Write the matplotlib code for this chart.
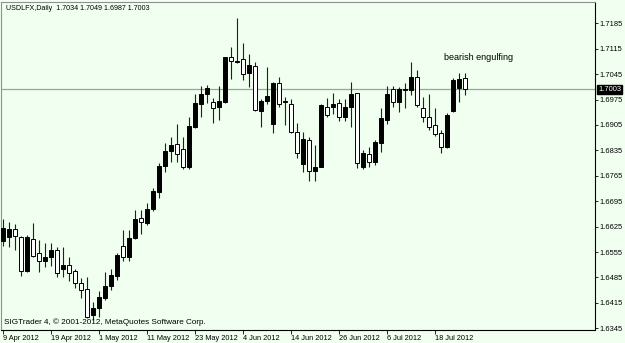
import matplotlib
matplotlib.use("Agg")
import matplotlib.pyplot as plt

# daily candles, 9 Apr 2012 .. 25 Jul 2012 (weekdays)
opens = [1.6585, 1.6597, 1.6619, 1.6596, 1.6504, 1.6590, 1.6553, 1.6530, 1.6542, 1.6560,
         1.6508, 1.6519, 1.6502, 1.6469, 1.6452, 1.6382, 1.6400, 1.6428, 1.6462, 1.6489,
         1.6572, 1.6542, 1.6595, 1.6649, 1.6636, 1.6674, 1.6720, 1.6793, 1.6834, 1.6853,
         1.6838, 1.6790, 1.6900, 1.6963, 1.6990, 1.6968, 1.6954, 1.6969, 1.7091, 1.7079,
         1.7086, 1.7049, 1.7068, 1.6943, 1.6971, 1.6908, 1.7021, 1.6970, 1.6963, 1.6885,
         1.6798, 1.6864, 1.6779, 1.6790, 1.6955, 1.6955, 1.6965, 1.6926, 1.6954, 1.6992,
         1.6790, 1.6824, 1.6804, 1.6854, 1.6919, 1.7003, 1.6969, 1.7002, 1.7001, 1.7036,
         1.6951, 1.6928, 1.6905, 1.6882, 1.6843, 1.6944, 1.7006, 1.7034]
highs = [1.6646, 1.6639, 1.6632, 1.6599, 1.6602, 1.6636, 1.6587, 1.6581, 1.6581, 1.6569,
         1.6570, 1.6540, 1.6508, 1.6484, 1.6486, 1.6418, 1.6449, 1.6500, 1.6508, 1.6552,
         1.6616, 1.6616, 1.6671, 1.6672, 1.6690, 1.6731, 1.6800, 1.6856, 1.6873, 1.6908,
         1.6871, 1.6928, 1.6990, 1.7012, 1.7014, 1.6978, 1.7012, 1.7093, 1.7119, 1.7199,
         1.7132, 1.7100, 1.7079, 1.6977, 1.7065, 1.7024, 1.7036, 1.6981, 1.6976, 1.6911,
         1.6887, 1.6873, 1.6850, 1.6963, 1.6978, 1.6994, 1.6976, 1.6976, 1.7024, 1.6994,
         1.6836, 1.6845, 1.6864, 1.6952, 1.7012, 1.7012, 1.7010, 1.7021, 1.7079, 1.7056,
         1.6983, 1.6990, 1.6951, 1.6891, 1.6939, 1.7033, 1.7047, 1.7049]
lows = [1.6572, 1.6570, 1.6561, 1.6488, 1.6500, 1.6540, 1.6501, 1.6515, 1.6517, 1.6486,
        1.6487, 1.6476, 1.6457, 1.6428, 1.6373, 1.6368, 1.6377, 1.6423, 1.6451, 1.6478,
        1.6530, 1.6530, 1.6592, 1.6605, 1.6630, 1.6668, 1.6703, 1.6776, 1.6802, 1.6802,
        1.6783, 1.6783, 1.6897, 1.6927, 1.6965, 1.6910, 1.6919, 1.6966, 1.7031, 1.7076,
        1.7029, 1.7009, 1.6943, 1.6899, 1.6963, 1.6882, 1.6955, 1.6905, 1.6883, 1.6813,
        1.6776, 1.6752, 1.6752, 1.6788, 1.6927, 1.6935, 1.6917, 1.6917, 1.6900, 1.6786,
        1.6783, 1.6790, 1.6795, 1.6831, 1.6908, 1.6955, 1.6942, 1.6952, 1.6988, 1.6955,
        1.6914, 1.6891, 1.6875, 1.6827, 1.6841, 1.6941, 1.6969, 1.6987]
closes = [1.6621, 1.6618, 1.6599, 1.6504, 1.6596, 1.6544, 1.6530, 1.6541, 1.6560, 1.6497,
          1.6519, 1.6497, 1.6470, 1.6451, 1.6375, 1.6400, 1.6430, 1.6462, 1.6492, 1.6547,
          1.6542, 1.6595, 1.6645, 1.6639, 1.6674, 1.6723, 1.6793, 1.6834, 1.6850, 1.6824,
          1.6788, 1.6903, 1.6966, 1.6990, 1.7006, 1.6951, 1.6972, 1.7091, 1.7081, 1.7082,
          1.7045, 1.7070, 1.6946, 1.6971, 1.6986, 1.7021, 1.6963, 1.6968, 1.6886, 1.6827,
          1.6866, 1.6778, 1.6790, 1.6960, 1.6932, 1.6963, 1.6926, 1.6954, 1.6990, 1.6801,
          1.6827, 1.6802, 1.6857, 1.6923, 1.6990, 1.6969, 1.7003, 1.7004, 1.7036, 1.6960,
          1.6928, 1.6900, 1.6880, 1.6845, 1.6932, 1.7029, 1.7032, 1.7003]

date_labels = ["9 Apr 2012", "19 Apr 2012", "1 May 2012", "11 May 2012", "23 May 2012",
               "4 Jun 2012", "14 Jun 2012", "26 Jun 2012", "6 Jul 2012", "18 Jul 2012"]
price_ticks = [1.6345, 1.6415, 1.6485, 1.6555, 1.6625, 1.6695, 1.6765, 1.6835,
               1.6905, 1.6975, 1.7045, 1.7115, 1.7185]
last_price = 1.7003

bg = "#F0FFF0"
fnt = "Liberation Sans"

fig = plt.figure(figsize=(6.25, 3.43), dpi=100, facecolor=bg)
ax = fig.add_axes([1.5 / 625, 13 / 343, 593.5 / 625, 328 / 343])
ax.set_facecolor(bg)

n = len(opens)
for i in range(n):
    o, h, l, c = opens[i], highs[i], lows[i], closes[i]
    ax.vlines(i, l, h, color="#202020", lw=0.8, zorder=2)
    bottom = min(o, c)
    height = max(abs(c - o), 0.00005)
    face = "black" if c >= o else "white"
    ax.bar(i, height, bottom=bottom, width=0.6, color=face,
           edgecolor="black", linewidth=0.7, zorder=3)

ax.axhline(last_price, color="#A0A0A0", lw=0.9, zorder=1)

ax.set_xlim(-0.2, 98.7)
ax.set_ylim(1.63403, 1.72437)

# axes frame
for side in ["left", "top"]:
    ax.spines[side].set_color("#909090")
    ax.spines[side].set_linewidth(0.8)
for side in ["right", "bottom"]:
    ax.spines[side].set_color("black")
    ax.spines[side].set_linewidth(0.8)

ax.yaxis.tick_right()
ax.set_yticks(price_ticks)
ax.set_yticklabels([f"{p:.4f}" for p in price_ticks], fontsize=5.4, family=fnt)
ax.tick_params(axis="y", length=2.5, width=0.6, pad=1, colors="black")

ax.set_xticks([8 * k for k in range(len(date_labels))])
ax.set_xticklabels(date_labels, fontsize=5.3, family=fnt, ha="left")
ax.tick_params(axis="x", length=3, width=0.6, pad=0.5)

# current price marker on the price scale
ax.text(1.005, last_price, f"{last_price:.4f}", transform=ax.get_yaxis_transform(),
        fontsize=5.4, family=fnt, color="white", va="center", ha="left",
        bbox=dict(boxstyle="square,pad=0.15", fc="black", ec="black"), zorder=5,
        clip_on=False)

ax.text(4.5 / 593.5, 1 - 7 / 328, "USDLFX,Daily  1.7034 1.7049 1.6987 1.7003",
        transform=ax.transAxes, fontsize=5.1, family=fnt, va="center", ha="left")
ax.text(73.5, 1.7092, "bearish engulfing", fontsize=6.5, family=fnt, va="center", ha="left")
ax.text(2 / 593.5, 8 / 328, "SIGTrader 4, © 2001-2012, MetaQuotes Software Corp.",
        transform=ax.transAxes, fontsize=5.9, family=fnt, va="center", ha="left")

fig.savefig("out.png", dpi=100, facecolor=bg)
